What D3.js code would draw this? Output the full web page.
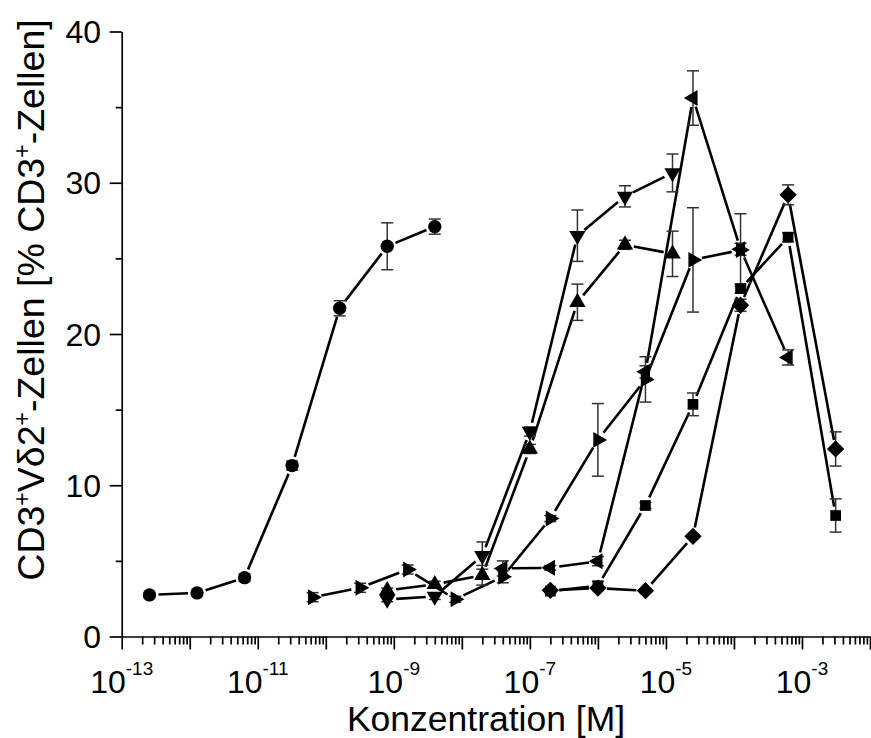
<!DOCTYPE html>
<html lang="en">
<head>
<meta charset="utf-8">
<title>Konzentration</title>
<script src="https://cdn.jsdelivr.net/npm/d3@7"></script>
<style>
  body { margin: 0; background: #fff; }
  svg { display: block; font-family: "Liberation Sans", Arial, sans-serif; }
</style>
</head>
<body>
<script>
// concentrations [M], values [%], error bars
var xCircle = [2.56e-13, 1.28e-12, 6.4e-12, 3.2e-11, 1.6e-10, 8e-10, 4e-9];
var yCircle = [2.75, 2.88, 3.89, 11.3, 21.7, 25.8, 27.1];
var eCircle = [0.15, 0.15, 0.25, 0.3, 0.5, 1.55, 0.5];

var xTri = [8e-10, 4e-9, 2e-8, 1e-7, 5e-7, 2.5e-6, 1.25e-5];
var yDown = [2.45, 2.65, 5.35, 13.55, 26.5, 29.1, 30.65];
var eDown = [0.15, 0.2, 0.9, 0.3, 1.7, 0.7, 1.25];
var yUp = [3.05, 3.45, 4.05, 12.4, 22.1, 25.9, 25.3];
var eUp = [0.15, 0.2, 0.65, 0.3, 1.2, 0.3, 1.5];

var xRight = [6.4e-11, 3.2e-10, 1.6e-9, 8e-9, 4e-8, 2e-7, 1e-6, 5e-6, 2.5e-5, 1.25e-4];
var yRight = [2.6, 3.22, 4.43, 2.46, 3.95, 7.8, 13.0, 17.0, 24.9, 25.55];
var eRight = [0.3, 0.3, 0.3, 0.2, 0.4, 0.2, 2.4, 1.5, 3.45, 2.4];

var xLeft = [4e-8, 2e-7, 1e-6, 5e-6, 2.5e-5, 1.25e-4, 6.25e-4];
var yLeft = [4.5, 4.54, 4.98, 17.5, 35.6, 25.6, 18.45];
var eLeft = [0.5, 0.15, 0.3, 0.4, 1.8, 0.4, 0.5];

var xLate = [2e-7, 1e-6, 5e-6, 2.5e-5, 1.25e-4, 6.25e-4, 3.125e-3];
var yDiamond = [3.05, 3.2, 3.03, 6.62, 21.9, 29.2, 12.4];
var eDiamond = [0.1, 0.1, 0.1, 0.15, 0.4, 0.66, 1.13];
var ySquare = [3.0, 3.35, 8.66, 15.35, 23.0, 26.4, 8.0];
var eSquare = [0.1, 0.3, 0.2, 0.75, 0.3, 0.3, 1.1];

var yTicks = [0, 10, 20, 30, 40];
var yMinor = [5, 15, 25, 35];
var xLabelExp = [-13, -11, -9, -7, -5, -3];

function pack(xs, ys, es) {
  return xs.map(function(x, i) { return {x: x, y: ys[i], e: es[i]}; });
}

var series = [
  {shape: "circle", pts: pack(xCircle, yCircle, eCircle)},
  {shape: "down", pts: pack(xTri, yDown, eDown)},
  {shape: "up", pts: pack(xTri, yUp, eUp)},
  {shape: "right", pts: pack(xRight, yRight, eRight)},
  {shape: "diamond", pts: pack(xLate, yDiamond, eDiamond)},
  {shape: "square", pts: pack(xLate, ySquare, eSquare)},
  {shape: "left", pts: pack(xLeft, yLeft, eLeft)}
];

var w = 871, h = 738;
var svg = d3.select("body").append("svg").attr("width", w).attr("height", h);

var x = d3.scaleLog().domain([1e-13, 1e-2]).range([121.7, 870]);
var y = d3.scaleLinear().domain([0, 40]).range([636.5, 31.5]);

// x axis: decades + minor ticks
var majors = d3.range(-13, -1).map(function(k) { return Math.pow(10, k); });
var minors = [];
d3.range(-13, -2).forEach(function(k) {
  for (var m = 2; m <= 9; m++) minors.push(m * Math.pow(10, k));
});

svg.append("g").attr("transform", "translate(0," + y(0) + ")")
  .call(d3.axisBottom(x).tickValues(minors).tickSize(8).tickFormat(""))
  .call(function(g) { g.select(".domain").remove(); });
svg.append("g").attr("transform", "translate(0," + y(0) + ")")
  .call(d3.axisBottom(x).tickValues(majors).tickSize(13).tickSizeOuter(0).tickFormat(""));

svg.append("g").attr("transform", "translate(" + x(1e-13) + ",0)")
  .call(d3.axisLeft(y).tickValues(yMinor).tickSize(6).tickFormat(""))
  .call(function(g) { g.select(".domain").remove(); });
svg.append("g").attr("transform", "translate(" + x(1e-13) + ",0)")
  .call(d3.axisLeft(y).tickValues(yTicks).tickSize(12).tickSizeOuter(0).tickFormat(""));

svg.selectAll(".domain, .tick line").attr("stroke", "#000").attr("stroke-width", 1.7);

// y tick labels
svg.selectAll(".ylab").data(yTicks).enter().append("text")
  .attr("x", 101).attr("y", function(d) { return y(d); }).attr("dy", "0.36em")
  .attr("text-anchor", "end").attr("font-size", 32).text(function(d) { return d; });

// x tick labels 10^k
var xl = svg.selectAll(".xlab").data(xLabelExp).enter().append("text")
  .attr("x", function(d) { return x(Math.pow(10, d)); }).attr("y", 693)
  .attr("text-anchor", "middle").attr("font-size", 32);
xl.append("tspan").text("10");
xl.append("tspan").attr("dy", -18).attr("font-size", 19).text(function(d) { return "-" + Math.abs(d); });

// axis titles
svg.append("text").attr("x", 486).attr("y", 731).attr("text-anchor", "middle")
  .attr("font-size", 35.5).text("Konzentration [M]");

var yt = svg.append("text").attr("transform", "translate(44,300) rotate(-90)")
  .attr("text-anchor", "middle").attr("font-size", 37.5);
yt.append("tspan").text("CD3");
yt.append("tspan").attr("dy", -14).attr("font-size", 23).text("+");
yt.append("tspan").attr("dy", 14).text("V\u03b42");
yt.append("tspan").attr("dy", -14).attr("font-size", 23).text("+");
yt.append("tspan").attr("dy", 14).text("-Zellen [% CD3");
yt.append("tspan").attr("dy", -14).attr("font-size", 23).text("+");
yt.append("tspan").attr("dy", 14).text("-Zellen]");

// connecting lines, cut short at the markers
var gap = 9;
series.forEach(function(s) {
  var segs = d3.pairs(s.pts).map(function(p) {
    var x0 = x(p[0].x), y0 = y(p[0].y), x1 = x(p[1].x), y1 = y(p[1].y);
    var dx = x1 - x0, dy = y1 - y0, len = Math.sqrt(dx * dx + dy * dy);
    var ux = dx / len, uy = dy / len;
    return [x0 + ux * gap, y0 + uy * gap, x1 - ux * gap, y1 - uy * gap, len];
  }).filter(function(d) { return d[4] > 2 * gap; });
  svg.append("g").selectAll("line").data(segs).enter().append("line")
    .attr("x1", function(d) { return d[0]; }).attr("y1", function(d) { return d[1]; })
    .attr("x2", function(d) { return d[2]; }).attr("y2", function(d) { return d[3]; })
    .attr("stroke", "#000").attr("stroke-width", 2.6);
});

// error bars
var cap = 6;
series.forEach(function(s) {
  var g = svg.append("g").attr("stroke", "#333").attr("stroke-width", 1.5);
  s.pts.forEach(function(p) {
    var cx = x(p.x), top = y(p.y + p.e), bot = y(p.y - p.e);
    g.append("line").attr("x1", cx).attr("x2", cx).attr("y1", top).attr("y2", bot);
    g.append("line").attr("x1", cx - cap).attr("x2", cx + cap).attr("y1", top).attr("y2", top);
    g.append("line").attr("x1", cx - cap).attr("x2", cx + cap).attr("y1", bot).attr("y2", bot);
  });
});

// markers
var shapes = {
  circle: {type: d3.symbolCircle, size: 140, rot: 0},
  up: {type: d3.symbolTriangle, size: 115, rot: 0},
  down: {type: d3.symbolTriangle, size: 115, rot: 180},
  left: {type: d3.symbolTriangle, size: 110, rot: -90},
  right: {type: d3.symbolTriangle, size: 110, rot: 90},
  diamond: {type: d3.symbolSquare, size: 150, rot: 45},
  square: {type: d3.symbolSquare, size: 115, rot: 0}
};
series.forEach(function(s) {
  var sh = shapes[s.shape];
  svg.append("g").selectAll("path").data(s.pts).enter().append("path")
    .attr("d", d3.symbol().type(sh.type).size(sh.size))
    .attr("transform", function(d) {
      return "translate(" + x(d.x) + "," + y(d.y) + ") rotate(" + sh.rot + ")";
    })
    .attr("fill", "#000");
});
</script>
</body>
</html>
